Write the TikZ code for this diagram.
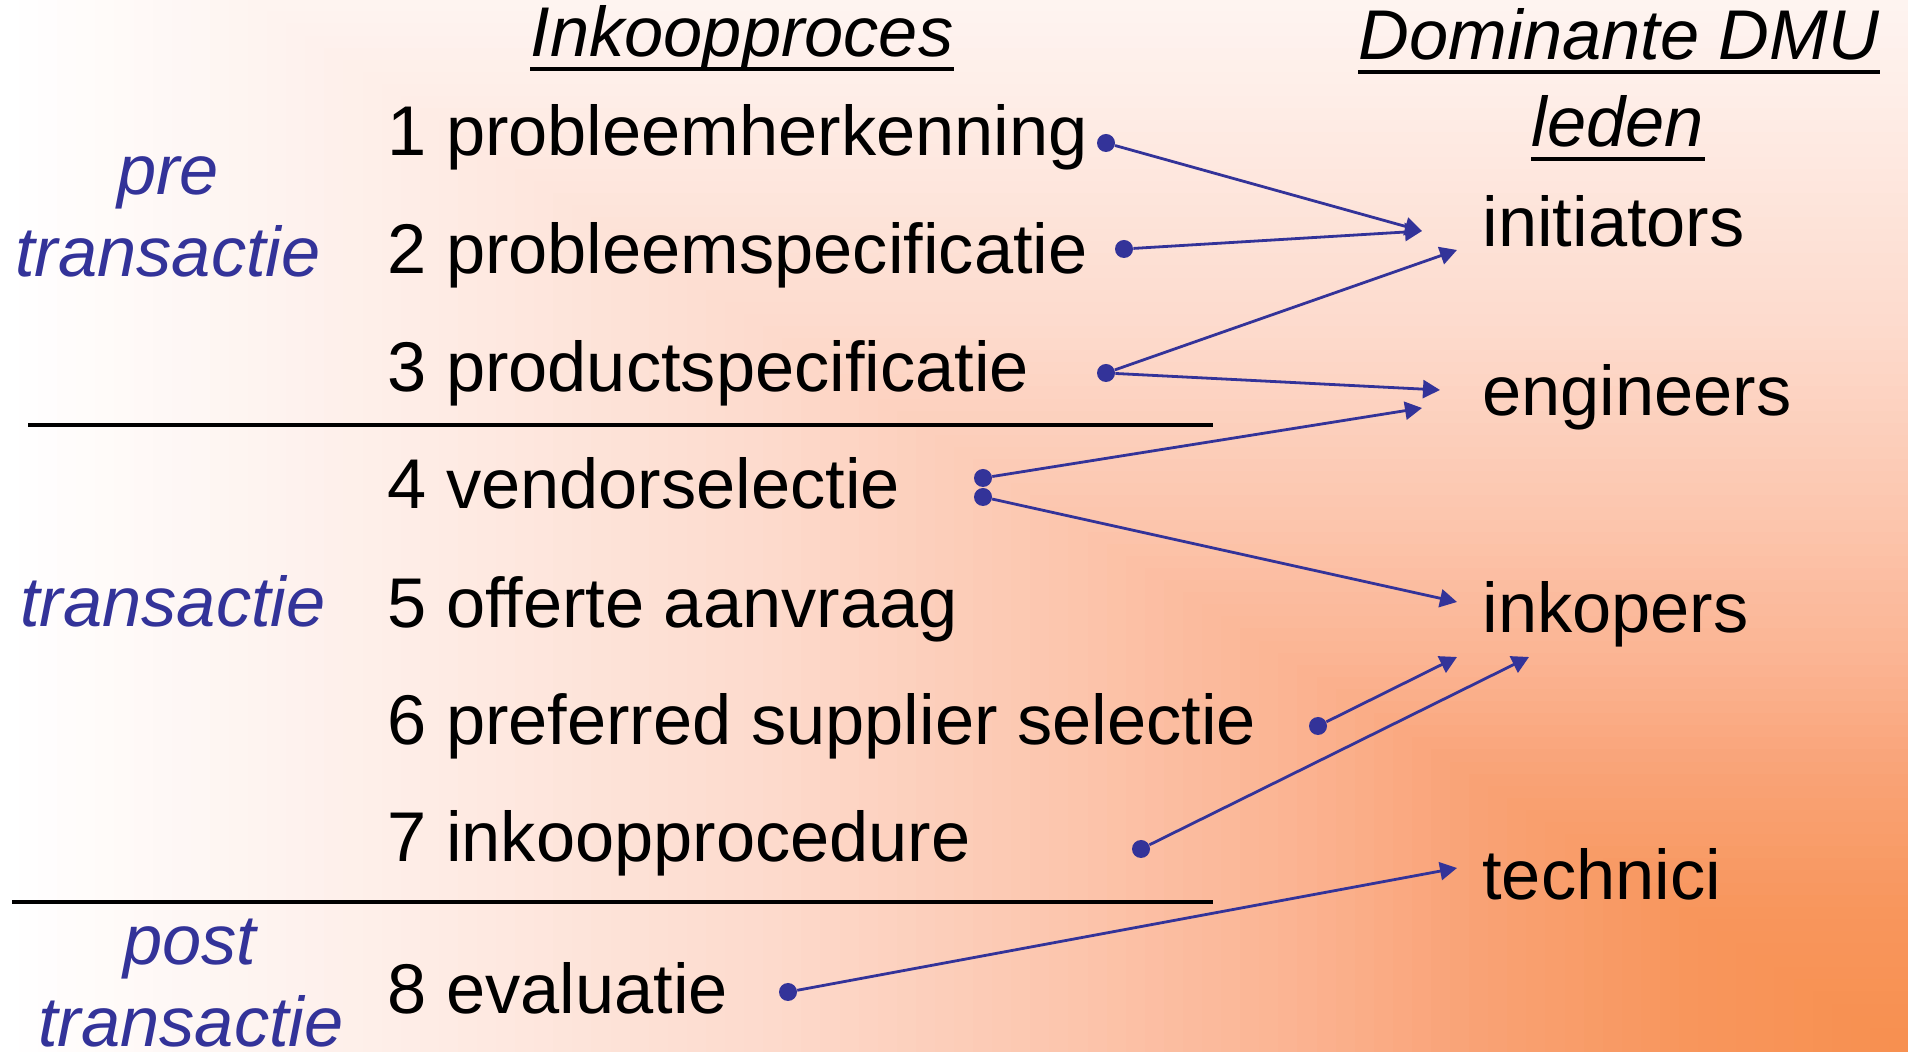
\documentclass[tikz,border=0pt]{standalone}
\usepackage{fontspec}
\setmainfont{Liberation Sans}
\usetikzlibrary{arrows.meta}
\definecolor{dmublue}{HTML}{333399}
\definecolor{bgA}{HTML}{F78F4F}
\definecolor{bgB}{HTML}{F8965C}
\definecolor{bgC}{HTML}{F9A275}
\definecolor{bgD}{HTML}{FBB493}
\definecolor{bgE}{HTML}{FCC6AE}
\definecolor{bgF}{HTML}{FDDACC}
\definecolor{bgG}{HTML}{FEEEE8}
\definecolor{bgH}{HTML}{FFFFFF}

\begin{document}
\begin{tikzpicture}[x=0.5pt,y=-0.5pt,
  txt/.style={inner sep=0pt,anchor=base west,font=\fontsize{35.2}{42}\selectfont},
  head/.style={inner sep=0pt,anchor=base,font=\fontsize{35.2}{42}\selectfont\itshape},
  fase/.style={head,text=dmublue},
  link/.style={dmublue,line width=1.4pt,-{Triangle[length=8.5pt,width=9pt]}},
  dot/.style={circle,fill=dmublue,inner sep=0pt,minimum size=9pt}]
\useasboundingbox (0,0) rectangle (1908,1052);
\begin{scope}
\clip (0,0) rectangle (1908,1052);
\foreach \lo/\hi/\clo/\chi in {80/100/bgG/bgH,60/80/bgF/bgG,45/60/bgE/bgF,33/45/bgD/bgE,23/33/bgC/bgD,12/23/bgB/bgC,0/12/bgA/bgB}
  \foreach \i in {\hi,...,\lo}{
    \pgfmathsetmacro\p{100*(\i-\lo)/(\hi-\lo)}
    \fill[\chi!\p!\clo] (1908-19.08*\i,1052-12.1*\i) rectangle (1908,1052);
  }
\end{scope}

\node[head] (h1) at (742,57) {Inkoopproces};
\node[head] (h2) at (1619,60) {Dominante DMU};
\node[head] (h3) at (1618,147) {leden};
\foreach \h in {h1,h2,h3}
  \draw[line width=2pt] ([yshift=-6pt]\h.base west) -- ([yshift=-6pt]\h.base east);

\node[fase] (pre) at (168,195) {pre};
\node[fase] (pre2) at (168,277) {transactie};
\node[fase] (tr) at (173,627) {transactie};
\node[fase] (post) at (190,965) {post};
\node[fase] (post2) at (191,1047) {transactie};

\node[txt] (s1) at (387,156) {1 probleemherkenning};
\node[txt] (s2) at (387,274) {2 probleemspecificatie};
\node[txt] (s3) at (387,392) {3 productspecificatie};
\node[txt] (s4) at (387,509) {4 vendorselectie};
\node[txt] (s5) at (387,628) {5 offerte aanvraag};
\node[txt] (s6) at (387,745) {6 preferred supplier selectie};
\node[txt] (s7) at (387,862) {7 inkoopprocedure};
\node[txt] (s8) at (387,1014) {8 evaluatie};

\node[txt] (init) at (1482,247) {initiators};
\node[txt] (eng) at (1482,416) {engineers};
\node[txt] (ink) at (1482,633) {inkopers};
\node[txt] (tech) at (1482,900) {technici};

\draw[line width=1.6pt] (28,425) -- (1213,425);
\draw[line width=1.6pt] (12,902) -- (1213,902);

\node[dot] (d1) at (1106,143) {};
\node[dot] (d2) at (1124,249) {};
\node[dot] (d3) at (1106,373) {};
\node[dot] (d4a) at (983,478) {};
\node[dot] (d4b) at (983,497) {};
\node[dot] (d6) at (1318,726) {};
\node[dot] (d7) at (1141,849) {};
\node[dot] (d8) at (788,992) {};

\coordinate (e1) at (1422,231);
\coordinate (e2) at (1457,250);
\coordinate (e3) at (1440,390);
\coordinate (e4) at (1422,408);
\coordinate (e5) at (1457,602);
\coordinate (e6) at (1457,657);
\coordinate (e7) at (1529,657);
\coordinate (e8) at (1457,868);

\draw[link] (d1) -- (e1);
\draw[link] (d2) -- (e1);
\draw[link] (d3) -- (e2);
\draw[link] (d3) -- (e3);
\draw[link] (d4a) -- (e4);
\draw[link] (d4b) -- (e5);
\draw[link] (d6) -- (e6);
\draw[link] (d7) -- (e7);
\draw[link] (d8) -- (e8);
\end{tikzpicture}
\end{document}
